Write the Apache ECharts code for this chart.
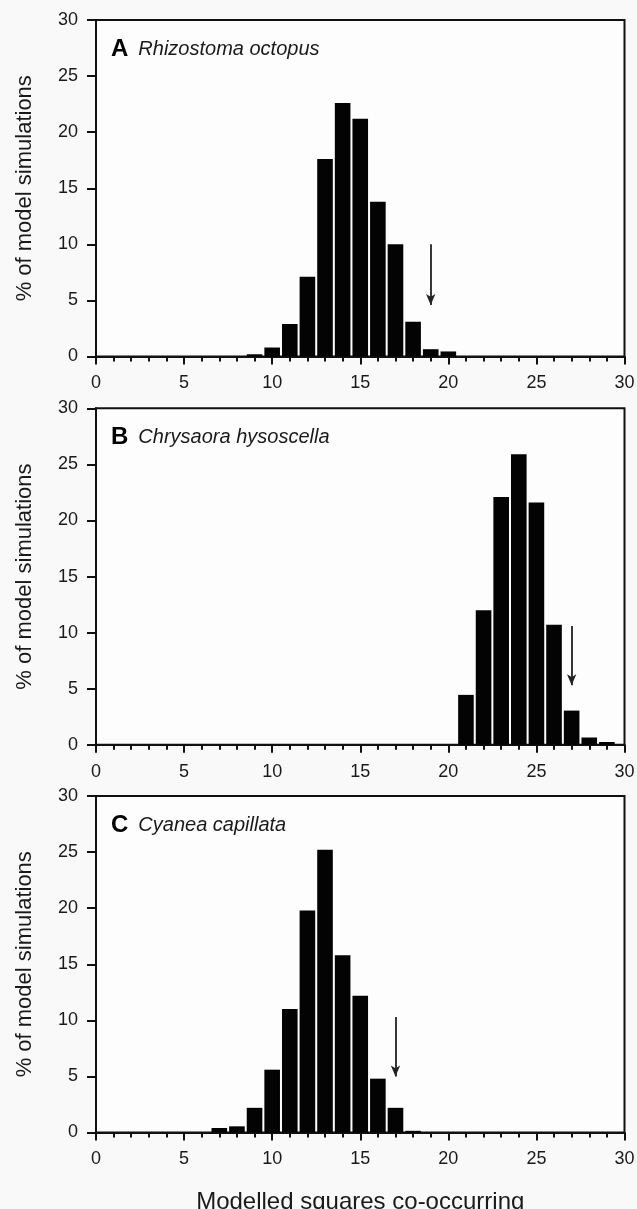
<!DOCTYPE html>
<html>
<head>
<meta charset="utf-8">
<script src="https://cdn.jsdelivr.net/npm/echarts@6/dist/echarts.min.js"></script>
<style>
html,body{margin:0;padding:0;background:#f9f9f9;}
#chart{width:637px;height:1209px;}
</style>
</head>
<body>
<div id="chart"></div>
<script>
// ---- data ----
const panelLetters = ['A', 'B', 'C'];
const speciesNames = ['Rhizostoma octopus', 'Chrysaora hysoscella', 'Cyanea capillata'];

const squaresA = [9, 10, 11, 12, 13, 14, 15, 16, 17, 18, 19, 20];
const percentA = [0.2, 0.8, 2.9, 7.1, 17.6, 22.6, 21.2, 13.8, 10.0, 3.1, 0.65, 0.45];

const squaresB = [21, 22, 23, 24, 25, 26, 27, 28, 29];
const percentB = [4.45, 12.0, 22.1, 25.9, 21.6, 10.7, 3.05, 0.65, 0.25];

const squaresC = [7, 8, 9, 10, 11, 12, 13, 14, 15, 16, 17, 18];
const percentC = [0.4, 0.55, 2.2, 5.6, 11.0, 19.8, 25.2, 15.8, 12.2, 4.8, 2.2, 0.15];

// observed value arrows: x position, arrow start (top) and tip values
const arrowX = [19, 27, 17];
const arrowTop = [10.0, 10.6, 10.3];
const arrowTip = [4.6, 5.3, 5.0];

const xTicks = [0, 5, 10, 15, 20, 25, 30];
const yTicks = [0, 5, 10, 15, 20, 25, 30];
const xTitle = 'Modelled squares co-occurring';
const yTitle = '% of model simulations';

// ---- layout ----
const gridTops = [20, 408.3, 796];
const gridHeight = 336.5;
const squares = [squaresA, squaresB, squaresC];
const percents = [percentA, percentB, percentC];

const chart = echarts.init(document.getElementById('chart'), null, {renderer: 'canvas'});
const FONT = 'Liberation Sans, Arial, sans-serif';
const axisColor = '#111';
const textColor = '#1a1a1a';

const grids = [], xAxes = [], yAxes = [], series = [], titles = [];
for (let i = 0; i < 3; i++) {
  grids.push({
    left: 96, right: 12.5, top: gridTops[i], height: gridHeight,
    outerBoundsMode: 'none', containLabel: false,
    show: true, backgroundColor: '#fdfdfd', borderColor: axisColor, borderWidth: 2
  });
  xAxes.push({
    type: 'value', gridIndex: i, min: xTicks[0], max: xTicks[xTicks.length - 1],
    interval: xTicks[1] - xTicks[0],
    name: i === 2 ? xTitle : '', nameLocation: 'middle', nameGap: 58,
    nameTextStyle: {fontFamily: FONT, fontSize: 24, color: textColor},
    axisLine: {show: true, onZero: false, lineStyle: {color: axisColor, width: 2}},
    axisTick: {show: true, inside: false, length: 8, lineStyle: {color: axisColor, width: 2}},
    minorTick: {show: true, splitNumber: 5, length: 5, lineStyle: {color: axisColor, width: 2}},
    splitLine: {show: false},
    axisLabel: {margin: 18, fontFamily: FONT, fontSize: 18, color: textColor}
  });
  yAxes.push({
    type: 'value', gridIndex: i, min: yTicks[0], max: yTicks[yTicks.length - 1],
    interval: yTicks[1] - yTicks[0],
    name: yTitle, nameLocation: 'middle', nameGap: 60, nameRotate: 90,
    nameTextStyle: {fontFamily: FONT, fontSize: 22, color: textColor},
    axisLine: {show: true, onZero: false, lineStyle: {color: axisColor, width: 2}},
    axisTick: {show: true, inside: false, length: 9, lineStyle: {color: axisColor, width: 2}},
    splitLine: {show: false},
    axisLabel: {margin: 18, fontFamily: FONT, fontSize: 18, color: textColor}
  });
  series.push({
    type: 'bar', xAxisIndex: i, yAxisIndex: i,
    data: squares[i].map((x, k) => [x, percents[i][k]]),
    barWidth: 15.6,
    itemStyle: {color: '#030303'},
    silent: true,
    markLine: {
      silent: true,
      symbol: ['none', 'arrow'],
      symbolSize: [7, 11],
      label: {show: false},
      lineStyle: {color: '#222', width: 1.8, type: 'solid'},
      data: [[
        {coord: [arrowX[i], arrowTop[i]]},
        {coord: [arrowX[i], arrowTip[i]]}
      ]]
    }
  });
  titles.push({
    text: '{b|' + panelLetters[i] + '}  {it|' + speciesNames[i] + '}',
    left: 106, top: gridTops[i] + 12,
    textStyle: {
      fontWeight: 'normal',
      rich: {
        b: {fontFamily: FONT, fontWeight: 'bold', fontSize: 24, color: '#000'},
        it: {fontFamily: FONT, fontStyle: 'italic', fontWeight: 'normal', fontSize: 20, color: textColor}
      }
    }
  });
}

chart.setOption({
  backgroundColor: '#f9f9f9',
  animation: false,
  title: titles,
  grid: grids,
  xAxis: xAxes,
  yAxis: yAxes,
  series: series
});
</script>
</body>
</html>
